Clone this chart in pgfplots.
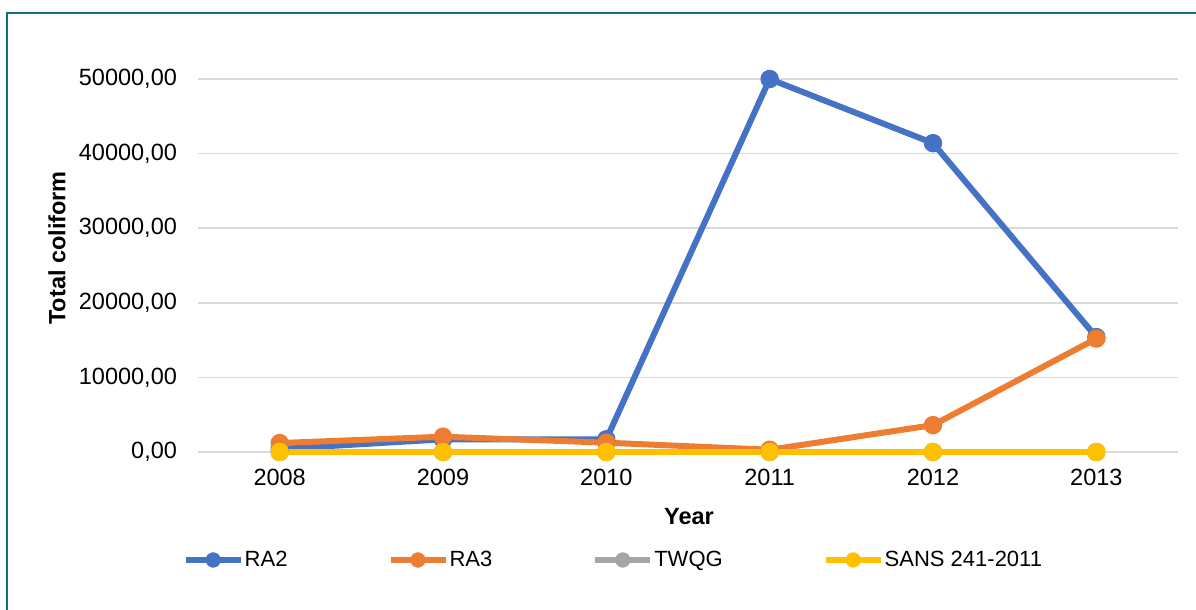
\documentclass[border=0pt]{standalone}
\usepackage{fontspec}
\setmainfont{Liberation Sans}
\usepackage{pgfplots}
\pgfplotsset{compat=1.18}

\definecolor{raBlue}{HTML}{4472C4}
\definecolor{raOrange}{HTML}{ED7D31}
\definecolor{twGray}{HTML}{A5A5A5}
\definecolor{sansGold}{HTML}{FFC000}
\definecolor{gridGray}{HTML}{D9D9D9}
\definecolor{frameTeal}{HTML}{136F80}

\begin{document}
\begin{tikzpicture}
\useasboundingbox (0,0) rectangle (598pt,305pt);
\draw[frameTeal, line width=1pt] (3.5pt,-2pt) -- (3.5pt,298.5pt) -- (600pt,298.5pt);
\begin{axis}[
  at={(99pt,79pt)}, anchor=south west,
  scale only axis, width=490pt, height=186.5pt,
  xmin=-0.5, xmax=5.5, ymin=0, ymax=50000,
  clip=false,
  axis line style={draw=none},
  major tick length=0pt,
  xtick={0,...,5},
  xticklabels={2008,2009,2010,2011,2012,2013},
  ytick={0,10000,20000,30000,40000,50000},
  scaled y ticks=false,
  ymajorgrids,
  grid style={gridGray, line width=0.75pt},
  yticklabel style={/pgf/number format/fixed, /pgf/number format/fixed zerofill,
    /pgf/number format/precision=2, /pgf/number format/use comma,
    /pgf/number format/1000 sep={}, /pgf/number format/assume math mode=true},
  every tick label/.append style={font=\fontsize{11.75}{14}\selectfont, text=black},
  yticklabel style={xshift=-7pt},
  xticklabel style={yshift=-5pt},
  ylabel={\textbf{Total coliform}},
  xlabel={\textbf{Year}},
  every axis label/.append style={font=\fontsize{11.75}{14}\selectfont},
  ylabel style={at={(axis description cs:-0.144,0.547)}, anchor=center},
  xlabel style={at={(axis description cs:0.501,-0.172)}, anchor=center},
  legend columns=4,
  legend style={at={(axis description cs:-0.016,-0.2895)}, anchor=west,
    draw=none, fill=none, inner sep=0pt,
    nodes={inner sep=0.5pt},
    font=\fontsize{11}{13}\selectfont,
    /tikz/every even column/.append style={column sep=49.5pt}},
  legend cell align=left,
  legend image code/.code={\draw[mark repeat=2, mark phase=2, #1, mark size=2.4pt]
     plot coordinates {(0pt,0pt) (13.75pt,0pt) (27.5pt,0pt)};},
  every axis plot/.append style={line width=3pt, mark=*, mark size=3.1pt, line join=round},
]
\addplot[raBlue, mark options={fill=raBlue}] coordinates {(0,400) (1,1700) (2,1700) (3,50000) (4,41400) (5,15400)};
\addlegendentry{RA2}
\addplot[raOrange, mark options={fill=raOrange}] coordinates {(0,1200) (1,2050) (2,1250) (3,300) (4,3600) (5,15200)};
\addlegendentry{RA3}
\addplot[twGray, mark options={fill=twGray}] coordinates {(0,0) (1,0) (2,0) (3,0) (4,0) (5,0)};
\addlegendentry{TWQG}
\addplot[sansGold, mark options={fill=sansGold}] coordinates {(0,0) (1,0) (2,0) (3,0) (4,0) (5,0)};
\addlegendentry{SANS 241-2011}
\end{axis}
\end{tikzpicture}
\end{document}
